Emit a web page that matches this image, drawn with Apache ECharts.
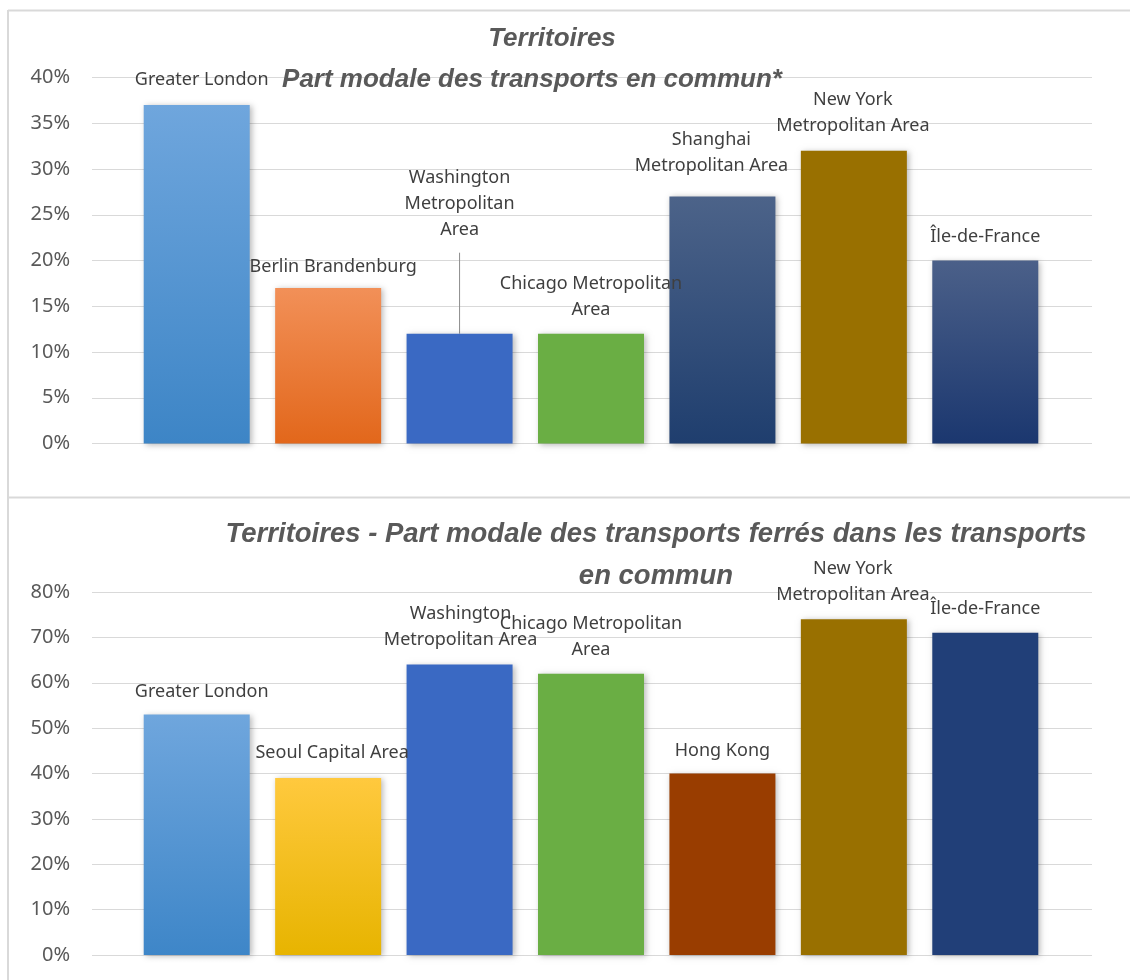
<!DOCTYPE html>
<html>
<head>
<meta charset="utf-8">
<script src="https://cdn.jsdelivr.net/npm/echarts@6/dist/echarts.min.js"></script>
<style>
  html, body { margin: 0; padding: 0; background: #ffffff; }
  #chart { width: 1130px; height: 980px; }
</style>
</head>
<body>
<div id="chart"></div>
<script>
// ---- Chart 1: modal share of public transport (%) ----
const transitCities = ['Greater London', 'Berlin Brandenburg', 'Washington Metropolitan Area',
  'Chicago Metropolitan Area', 'Shanghai Metropolitan Area', 'New York Metropolitan Area', 'Île-de-France'];
const transitShare = [37, 17, 12, 12, 27, 32, 20];
const transitLabels = ['Greater London', 'Berlin Brandenburg', 'Washington\nMetropolitan\nArea',
  'Chicago Metropolitan\nArea', 'Shanghai\nMetropolitan Area', 'New York\nMetropolitan Area', 'Île-de-France'];
const transitTicks = [0, 5, 10, 15, 20, 25, 30, 35, 40];

// ---- Chart 2: share of rail within public transport (%) ----
const railCities = ['Greater London', 'Seoul Capital Area', 'Washington Metropolitan Area',
  'Chicago Metropolitan Area', 'Hong Kong', 'New York Metropolitan Area', 'Île-de-France'];
const railShare = [53, 39, 64, 62, 40, 74, 71];
const railLabels = ['Greater London', 'Seoul Capital Area', 'Washington\nMetropolitan Area',
  'Chicago Metropolitan\nArea', 'Hong Kong', 'New York\nMetropolitan Area', 'Île-de-France'];
const railTicks = [0, 10, 20, 30, 40, 50, 60, 70, 80];

// Bar fills: [top, bottom] pairs give a vertical gradient, single strings are flat
const transitColors = [
  ['#6fa6dd', '#3d85c6'], ['#f29058', '#e2671b'], '#3a69c3', '#6aae44',
  ['#4c6389', '#1f3e6e'], '#997000', ['#4b6089', '#1b376f']
];
const railColors = [
  ['#6fa6dd', '#3e86c8'], ['#ffc93e', '#e7b400'], '#3a69c3', '#6aae44',
  '#993d00', '#997000', '#213f78'
];

// Label placement tweaks: [distance above bar, horizontal nudge]
const transitLabelPos = [[12, 5], [8, 5], [5, 0], [11, 0], [18, -11], [12, -1], [11, 0]];
const railLabelPos = [[10, 5], [12, 4], [12, 1], [11, 0], [10, 0], [11, -1], [11, 0]];
// The Washington label of chart 1 sits higher, tied to its bar by a leader line
const TRANSIT_LEADER = 2;
const TRANSIT_LEADER_LIFT = 76;

const TITLE_FONT = { fontFamily: 'Liberation Sans', fontStyle: 'italic', fontWeight: 'bold', color: '#595959' };
const GRID_COLOR = '#d9d9d9';

function fill(c) {
  if (typeof c === 'string') return c;
  return new echarts.graphic.LinearGradient(0, 0, 0, 1, [
    { offset: 0, color: c[0] }, { offset: 1, color: c[1] }
  ]);
}

function barData(values, colors, pos, leader) {
  return values.map((v, i) => {
    const item = {
      value: v,
      itemStyle: { color: fill(colors[i]) },
      label: { distance: pos[i][0] }
    };
    if (leader === i) {
      item.label.padding = [0, 0, 10, 0];
      item.labelLine = { show: true, lineStyle: { color: '#8c8c8c', width: 1 } };
    }
    return item;
  });
}

function valueAxis(gridIndex, ticks, show) {
  return {
    type: 'value', gridIndex,
    min: ticks[0], max: ticks[ticks.length - 1], interval: ticks[1] - ticks[0],
    show,
    axisLine: { show: false }, axisTick: { show: false },
    axisLabel: { show, formatter: '{value}%', color: '#595959', fontFamily: 'Noto Sans', fontSize: 20, margin: 22 },
    splitLine: { show, lineStyle: { color: GRID_COLOR, width: 1 } }
  };
}

const barLabel = (labels) => ({
  show: true, position: 'top', color: '#3f3f3f',
  fontFamily: 'Noto Sans', fontSize: 18, lineHeight: 26, align: 'center',
  formatter: p => labels[p.dataIndex]
});

const barShadow = { shadowBlur: 6, shadowColor: 'rgba(0,0,0,0.28)', shadowOffsetX: 2, shadowOffsetY: 1 };

const option = {
  backgroundColor: '#ffffff',
  animation: false,
  title: [
    { text: 'Territoires', left: 552, top: 26, padding: 0, textAlign: 'center',
      textStyle: Object.assign({ fontSize: 26, lineHeight: 26 }, TITLE_FONT) },
    { text: 'Part modale des transports en commun*', left: 532, top: 67, padding: 0, textAlign: 'center',
      textStyle: Object.assign({ fontSize: 26, lineHeight: 26 }, TITLE_FONT) },
    { text: 'Territoires - Part modale des transports ferrés dans les transports\nen commun',
      left: 656, top: 513, padding: 0, textAlign: 'center',
      textStyle: Object.assign({ fontSize: 27.5, lineHeight: 42 }, TITLE_FONT) }
  ],
  grid: [
    { left: 92, right: 38, top: 77.5, height: 366 },
    { left: 131, right: 79, top: 77.5, height: 366 },
    { left: 92, right: 38, top: 592, height: 363 },
    { left: 131, right: 79, top: 592, height: 363 }
  ],
  xAxis: [
    { type: 'value', gridIndex: 0, min: 0, max: 1, show: false },
    { type: 'category', gridIndex: 1, data: transitCities, show: false },
    { type: 'value', gridIndex: 2, min: 0, max: 1, show: false },
    { type: 'category', gridIndex: 3, data: railCities, show: false }
  ],
  yAxis: [
    valueAxis(0, transitTicks, true),
    valueAxis(1, transitTicks, false),
    valueAxis(2, railTicks, true),
    valueAxis(3, railTicks, false)
  ],
  series: [
    {
      name: 'Part modale des transports en commun',
      type: 'bar', xAxisIndex: 1, yAxisIndex: 1, barWidth: 106,
      itemStyle: barShadow,
      label: barLabel(transitLabels),
      labelLayout: p => ({
        dx: transitLabelPos[p.dataIndex][1],
        dy: p.dataIndex === TRANSIT_LEADER ? -TRANSIT_LEADER_LIFT : 0
      }),
      data: barData(transitShare, transitColors, transitLabelPos, TRANSIT_LEADER)
    },
    {
      name: 'Part modale des transports ferrés',
      type: 'bar', xAxisIndex: 3, yAxisIndex: 3, barWidth: 106,
      itemStyle: barShadow,
      label: barLabel(railLabels),
      labelLayout: p => ({ dx: railLabelPos[p.dataIndex][1] }),
      data: barData(railShare, railColors, railLabelPos, -1)
    }
  ],
  graphic: [
    { type: 'line', silent: true, shape: { x1: 8, y1: 10.5, x2: 1130, y2: 10.5 }, style: { stroke: '#d9d9d9', lineWidth: 2 } },
    { type: 'line', silent: true, shape: { x1: 8, y1: 10, x2: 8, y2: 980 }, style: { stroke: '#d9d9d9', lineWidth: 2 } },
    { type: 'line', silent: true, shape: { x1: 8, y1: 497.5, x2: 1130, y2: 497.5 }, style: { stroke: '#d9d9d9', lineWidth: 2 } }
  ]
};

const chart = echarts.init(document.getElementById('chart'), null, { renderer: 'canvas' });
chart.setOption(option);
</script>
</body>
</html>
